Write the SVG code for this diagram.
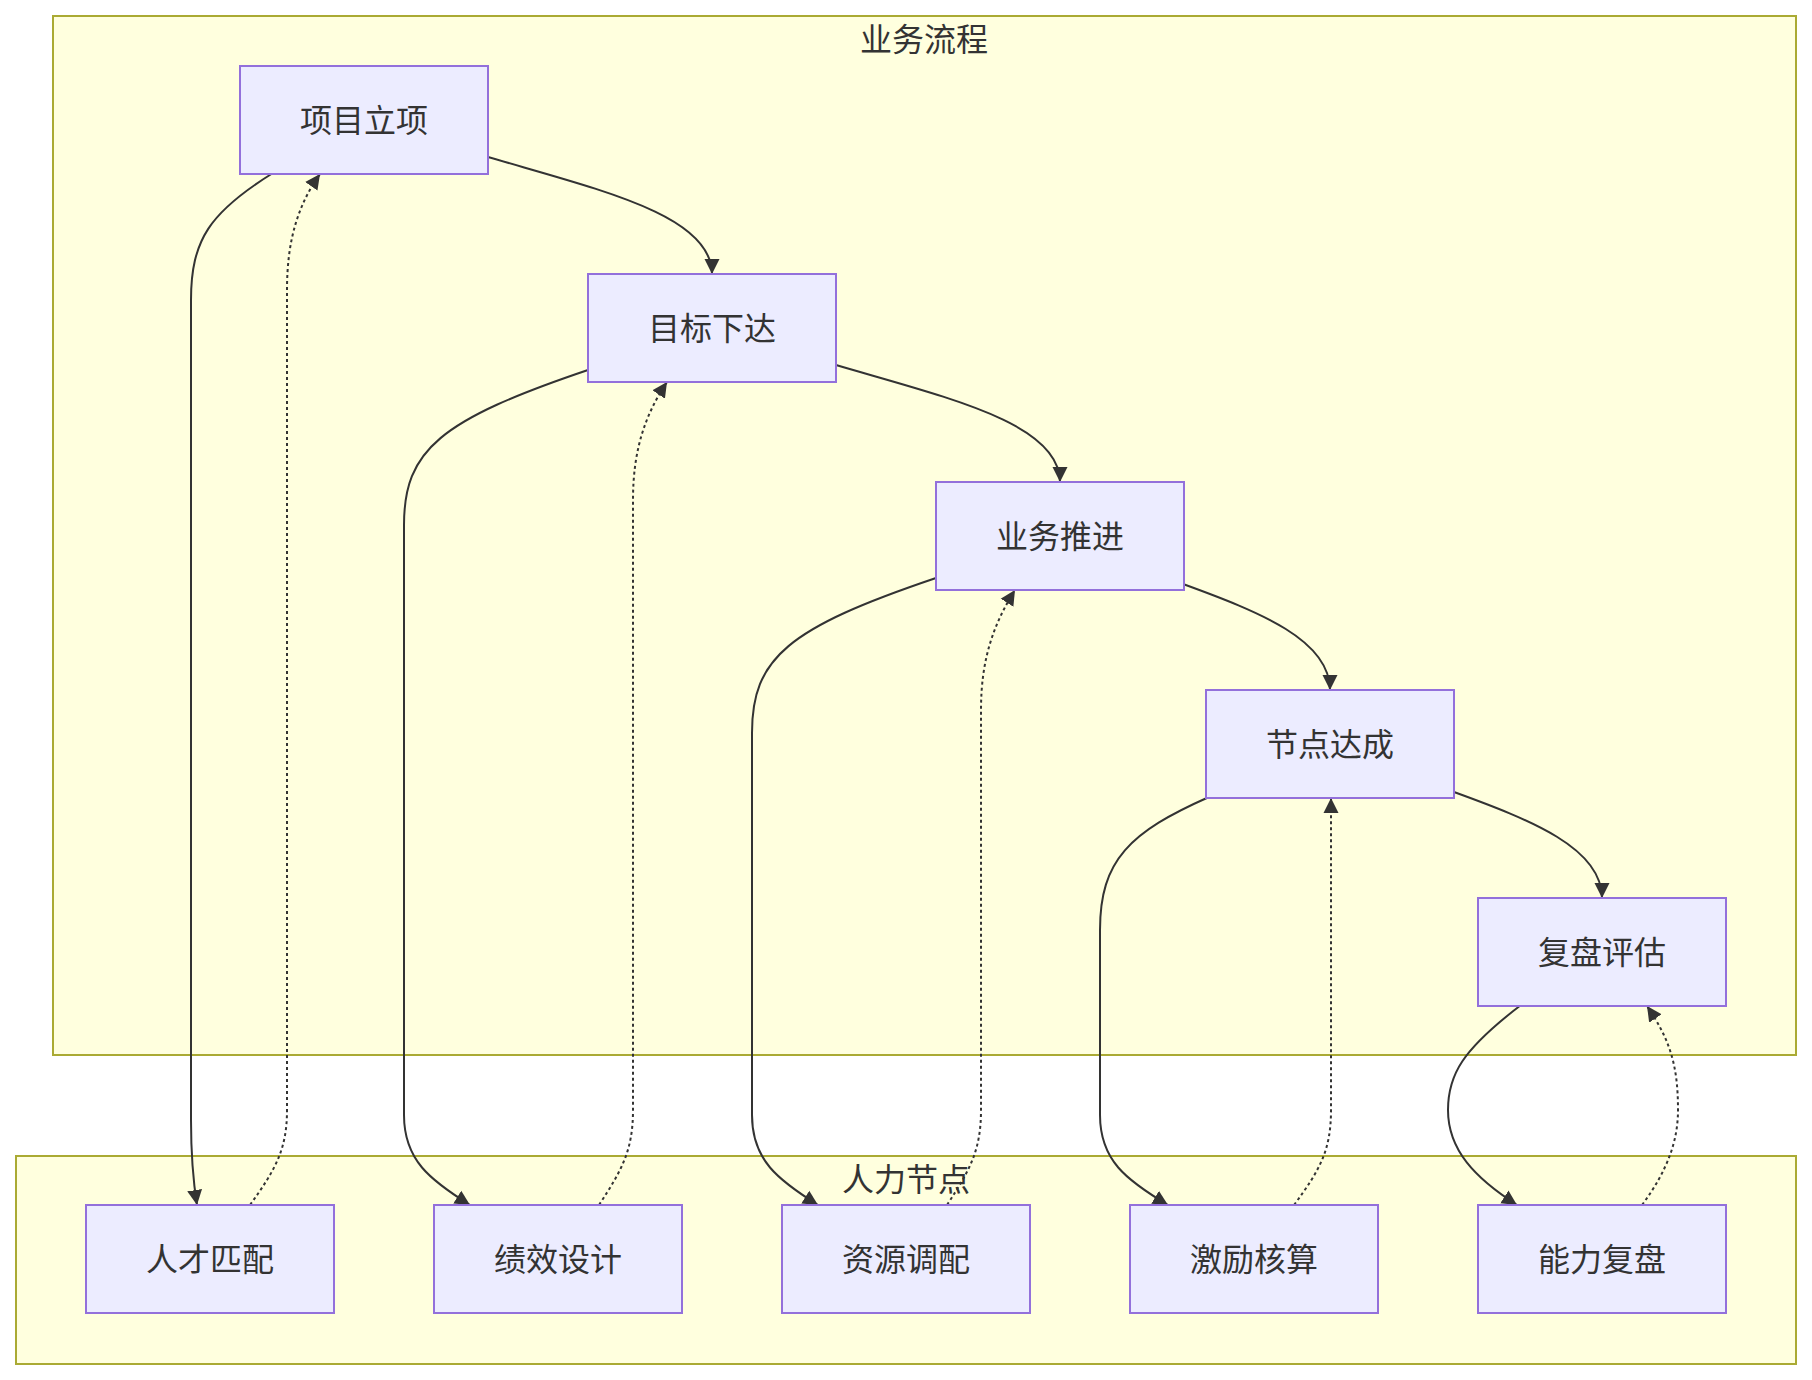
<svg xmlns="http://www.w3.org/2000/svg" width="1812" height="1380" viewBox="0 0 1812 1380">
<defs>
<style>
.cluster{fill:#ffffde;stroke:#aaaa33;stroke-width:2}
.node rect{fill:#ECECFF;stroke:#9370DB;stroke-width:2}
text{font-family:"Noto Sans CJK SC","Noto Sans",sans-serif;font-size:32px;fill:#333;text-anchor:middle;dominant-baseline:central}
.edge{fill:none;stroke:#333;stroke-width:2}
.dash{stroke-dasharray:3 3}
</style>
<marker id="arr" viewBox="0 0 10 10" refX="10" refY="5" markerWidth="15" markerHeight="16" markerUnits="userSpaceOnUse" orient="auto">
<path d="M0,0 L10,5 L0,10 z" fill="#333"/>
</marker>
</defs>
<rect width="1812" height="1380" fill="#ffffff"/>
<g id="cluster-biz">
<rect class="cluster" x="53" y="16" width="1743" height="1039"/>
<text x="924" y="37">业务流程</text>
</g>
<g id="cluster-hr">
<rect class="cluster" x="16" y="1156" width="1780" height="208"/>
<text x="906" y="1177">人力节点</text>
</g>
<g id="edges">
<path class="edge" marker-end="url(#arr)" d="M488,157 C600,190 712,215 712,274"/>
<path class="edge" marker-end="url(#arr)" d="M836,365 C948,398 1060,423 1060,482"/>
<path class="edge" marker-end="url(#arr)" d="M1183,584 C1260,612 1330,640 1330,690"/>
<path class="edge" marker-end="url(#arr)" d="M1454,792 C1531,820 1602,848 1602,898"/>
<path class="edge" marker-end="url(#arr)" d="M273,173 C210,212 191,240 191,300 L191,1120 C191,1160 193,1180 197,1205"/>
<path class="edge" marker-end="url(#arr)" d="M588,370 C440,420 404,450 404,525 L404,1115 C404,1160 430,1180 470,1205"/>
<path class="edge" marker-end="url(#arr)" d="M936,578 C788,628 752,658 752,733 L752,1115 C752,1160 778,1180 818,1205"/>
<path class="edge" marker-end="url(#arr)" d="M1209,797 C1130,832 1100,860 1100,930 L1100,1115 C1100,1160 1126,1180 1168,1205"/>
<path class="edge" marker-end="url(#arr)" d="M1521,1005 C1462,1050 1448,1075 1448,1110 C1448,1150 1475,1178 1517,1205"/>
<path class="edge dash" marker-end="url(#arr)" d="M250,1205 C275,1170 287,1150 287,1110 L287,290 C287,240 298,205 320,174"/>
<path class="edge dash" marker-end="url(#arr)" d="M599,1205 C622,1170 633,1150 633,1110 L633,500 C633,450 645,415 667,382"/>
<path class="edge dash" marker-end="url(#arr)" d="M947,1205 C970,1170 981,1150 981,1110 L981,710 C981,660 993,625 1015,590"/>
<path class="edge dash" marker-end="url(#arr)" d="M1294,1205 C1320,1170 1331,1150 1331,1110 L1331,798"/>
<path class="edge dash" marker-end="url(#arr)" d="M1642,1205 C1668,1170 1678,1140 1678,1110 C1678,1065 1670,1040 1647,1006"/>
</g>
<g id="n1" class="node"><rect x="240" y="66" width="248" height="108"/><text x="364" y="118">项目立项</text></g>
<g id="n2" class="node"><rect x="588" y="274" width="248" height="108"/><text x="712" y="326">目标下达</text></g>
<g id="n3" class="node"><rect x="936" y="482" width="248" height="108"/><text x="1060" y="534">业务推进</text></g>
<g id="n4" class="node"><rect x="1206" y="690" width="248" height="108"/><text x="1330" y="742">节点达成</text></g>
<g id="n5" class="node"><rect x="1478" y="898" width="248" height="108"/><text x="1602" y="950">复盘评估</text></g>
<g id="h1" class="node"><rect x="86" y="1205" width="248" height="108"/><text x="210" y="1257">人才匹配</text></g>
<g id="h2" class="node"><rect x="434" y="1205" width="248" height="108"/><text x="558" y="1257">绩效设计</text></g>
<g id="h3" class="node"><rect x="782" y="1205" width="248" height="108"/><text x="906" y="1257">资源调配</text></g>
<g id="h4" class="node"><rect x="1130" y="1205" width="248" height="108"/><text x="1254" y="1257">激励核算</text></g>
<g id="h5" class="node"><rect x="1478" y="1205" width="248" height="108"/><text x="1602" y="1257">能力复盘</text></g>
</svg>
